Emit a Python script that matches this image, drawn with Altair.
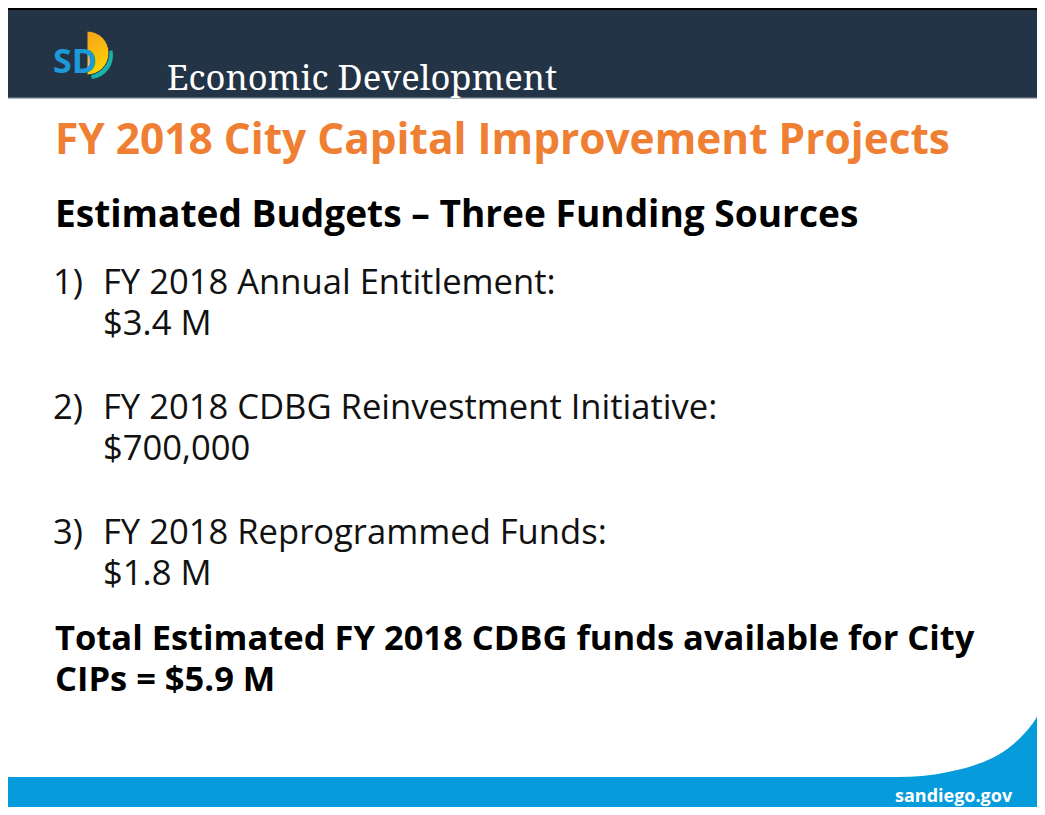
import math
import altair as alt
import pandas as pd

# ---------------- content (text) ----------------
header_label = ["Economic Development"]
logo_label = ["SD"]
title = ["FY 2018 City Capital Improvement Projects"]
subtitle = ["Estimated Budgets \u2013 Three Funding Sources"]
item_numbers = ["1)", "2)", "3)"]
item_names = ["FY 2018 Annual Entitlement:",
              "FY 2018 CDBG Reinvestment Initiative:",
              "FY 2018 Reprogrammed Funds:"]
item_amounts = ["$3.4 M", "$700,000", "$1.8 M"]
total_lines = ["Total Estimated FY 2018 CDBG funds available for City",
               "CIPs = $5.9 M"]
footer_label = ["sandiego.gov"]

# ---------------- layout (page pixel coordinates) ----------------
X0, X1, Y0, Y1 = 8, 1037, 8, 807
W, H = X1 - X0, Y1 - Y0

xs = alt.Scale(domain=[X0, X1], nice=False, zero=False)
ys = alt.Scale(domain=[Y0, Y1], nice=False, zero=False, reverse=True)


def X(f="x"):
    return alt.X(f"{f}:Q", scale=xs, axis=None)


def Y(f="y"):
    return alt.Y(f"{f}:Q", scale=ys, axis=None)


def rect(x, x2, y, y2, color):
    df = pd.DataFrame({"x": [x], "x2": [x2], "y": [y], "y2": [y2]})
    return alt.Chart(df).mark_rect(color=color).encode(
        x=X(), x2="x2:Q", y=Y(), y2="y2:Q")


def text_layer(texts, xpos, ypos, size, color, weight="normal",
               font="Open Sans", line_height=None):
    df = pd.DataFrame({"t": texts, "x": xpos, "y": ypos})
    kw = dict(align="left", baseline="alphabetic", fontSize=size, font=font,
              fontWeight=weight, color=color)
    if line_height is not None:
        kw.update(lineBreak="\n", lineHeight=line_height)
    return alt.Chart(df).mark_text(**kw).encode(x=X(), y=Y(), text="t:N")


NAVY = "#243447"
ORANGE = "#EF7F33"
BLUE = "#069BDA"

layers = []
# header band
layers.append(rect(X0, X1, 10, 97, NAVY))
layers.append(rect(X0, X1, Y0, 10, "#000000"))
layers.append(rect(X0, X1, 97, 98.5, "#5B6878"))
# footer band
layers.append(rect(X0, X1, 777, Y1, BLUE))

# footer swoosh (boundary points)
swoosh_x = [880, 898, 922, 948, 975, 998, 1018, 1035, 1045]
swoosh_y = [777.5, 777, 776, 772, 765, 755, 740, 720, 702]
sw = pd.DataFrame({"x": swoosh_x, "y": swoosh_y, "y2": [778] * len(swoosh_x)})
layers.append(alt.Chart(sw).mark_area(color=BLUE, interpolate="monotone").encode(
    x=X(), y=Y(), y2="y2:Q"))

# logo: teal crescent, sail, letters
teal = pd.DataFrame({"x": [89.5], "y": [55.5]})
layers.append(alt.Chart(teal).mark_arc(
    color="#19B3AE", theta=1.35, theta2=3.05, radius=23.5).encode(x=X(), y=Y()))
sail = pd.DataFrame({"x": [87], "y": [53]})
layers.append(alt.Chart(sail).mark_arc(
    theta=0, theta2=math.pi, radius=22, stroke=NAVY, strokeWidth=1,
    color=alt.Gradient(gradient="linear",
                       stops=[alt.GradientStop(color="#F7A11A", offset=0),
                              alt.GradientStop(color="#FDD106", offset=1)],
                       x1=0, y1=0, x2=0.3, y2=1)).encode(x=X(), y=Y()))
layers.append(text_layer(logo_label, [53], [73], 34, "#1C9AD8", "bold"))

# header label
layers.append(text_layer(header_label, [167], [90], 34.6, "#FFFFFF",
                         font="Noto Serif, DejaVu Serif"))

# titles
layers.append(text_layer(title, [55], [154], 42.4, ORANGE, "bold"))
layers.append(text_layer(subtitle, [55], [227], 37.1, "#000000", "bold"))

# numbered items (name and amount as one two-line text)
num_y = [294, 419, 544]
item_text = [f"{n}\n{a}" for n, a in zip(item_names, item_amounts)]
layers.append(text_layer(item_numbers, [53] * 3, num_y, 34.6, "#111111"))
layers.append(text_layer(item_text, [103] * 3, num_y, 34.6, "#111111",
                         line_height=41))

# total
layers.append(text_layer(["\n".join(total_lines)], [55], [650], 34.5,
                         "#000000", "bold", line_height=41))

# footer text
layers.append(text_layer(footer_label, [895], [802], 18, "#FFFFFF", "bold"))

chart = alt.layer(*layers).properties(
    width=W, height=H, padding=0, autosize=alt.AutoSizeParams(type="none"),
    background="#FFFFFF"
).configure_view(strokeWidth=0)

chart.save("out.html", embed_options={"renderer": "svg", "actions": False})
